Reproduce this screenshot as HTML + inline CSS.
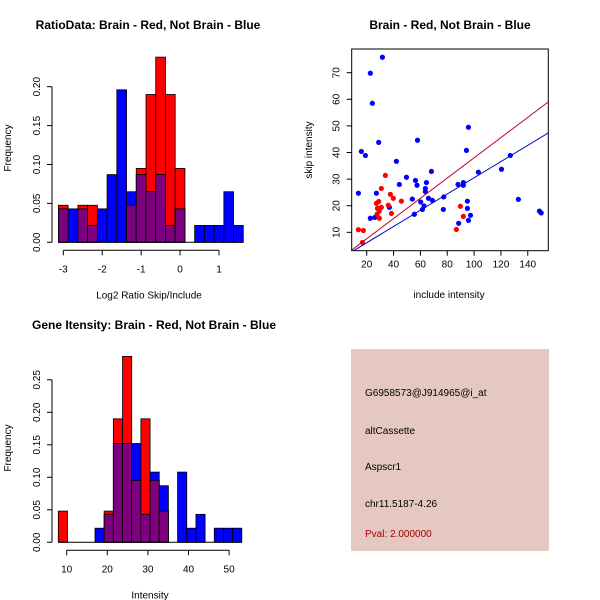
<!DOCTYPE html>
<html><head><meta charset="utf-8">
<style>
html,body{margin:0;padding:0;background:#fff;}
svg{display:block;font-family:"Liberation Sans",sans-serif;}
</style></head>
<body>
<svg id="root" width="600" height="600" viewBox="0 0 600 600">
<rect x="0" y="0" width="600" height="600" fill="#fff"/>
<text x="148" y="29" font-size="12" font-weight="bold" text-anchor="middle">RatioData: Brain - Red, Not Brain - Blue</text>
<text x="450" y="29" font-size="12" font-weight="bold" text-anchor="middle">Brain - Red, Not Brain - Blue</text>
<text x="154" y="329" font-size="12" font-weight="bold" text-anchor="middle">Gene Itensity: Brain - Red, Not Brain - Blue</text>
<g id="g1"></g>
<g id="g2"></g>
<g id="g3"></g>
<g>
<rect x="351" y="349" width="198" height="202" fill="#e6c8c2"/>
<text x="365" y="396" font-size="10">G6958573@J914965@i_at</text>
<text x="365" y="434" font-size="10">altCassette</text>
<text x="365" y="470" font-size="10">Aspscr1</text>
<text x="365" y="507" font-size="10">chr11.5187-4.26</text>
<text x="365" y="537" font-size="10" fill="#a00000">Pval: 2.000000</text>
</g>
</svg>
<script>
// ratio histogram data
const ratioBinStart = -3.125;
const ratioBinWidth = 0.25;
const ratioRed  = [0.0476,0,0.0476,0.0476,0,0,0,0.0476,0.095,0.19,0.238,0.19,0.095,0,0,0,0,0,0];
const ratioBlue = [0.043,0.043,0.043,0.0217,0.043,0.087,0.196,0.065,0.087,0.065,0.087,0.0217,0.043,0,0.0217,0.0217,0.0217,0.065,0.0217];
const ratioXTicks = [-3,-2,-1,0,1];
const ratioYTicks = ["0.00","0.05","0.10","0.15","0.20"];
// intensity histogram data
const intBinStart = 7.93;
const intBinWidth = 2.26;
const intRed  = [0.048,0,0,0,0,0.048,0.19,0.286,0.095,0.19,0.095,0.048,0,0,0,0,0,0,0,0];
const intBlue = [0,0,0,0,0.0217,0.043,0.152,0.152,0.152,0.043,0.108,0.087,0,0.108,0.0217,0.043,0,0.0217,0.0217,0.0217];
const intXTicks = [10,20,30,40,50];
const intYTicks = ["0.00","0.05","0.10","0.15","0.20","0.25"];
// scatter data
const blueX = [31.7,22.7,24.2,28.9,16,19,13.8,27.2,22.7,26,42.1,44.3,49.6,36.9,57.5,56.3,57.8,54,55.5,64.5,63.7,63.7,68.2,66,69,60.2,61.5,62.7,77.4,77.1,88,92,92,88.5,94.3,95.8,95,95,97.3,95.8,103.2,120.4,127,133,148.7,150];
const blueY = [75.8,69.8,58.5,43.8,40.4,38.9,24.7,24.7,15.3,15.6,36.7,28,30.7,19.4,27.7,29.5,44.6,22.5,16.8,28.7,26.5,25.3,32.9,22.8,22,21.4,18.6,19.9,23.3,18.6,28,28.7,27.7,13.4,40.8,49.5,21.7,19,16.4,14.5,32.6,33.7,38.9,22.4,18,17.3];
const redX = [13.8,17.5,16.8,33.9,30.9,27.2,28.9,28,29.4,27.7,29.4,30.9,37.6,39.8,36.1,38.4,45.8,89.8,92,86.8];
const redY = [11,10.7,6.2,31.4,26.5,20.9,21.6,19,18,16.8,15.3,19.4,24.3,22.8,20.2,17.1,21.7,19.8,16,11.1];
const redSlope = 0.38;
const blueSlope = 0.305;
const scXTicks = [20,40,60,80,100,120,140];
const scYTicks = [10,20,30,40,50,60,70];

const NS = "http://www.w3.org/2000/svg";
function mk(parent, tag, attrs){ const e=document.createElementNS(NS,tag); for(const k in attrs) e.setAttribute(k,attrs[k]); parent.appendChild(e); return e; }
function txt(parent, s, attrs){ const e=mk(parent,'text',attrs); e.textContent=s; return e; }

function histogram(g, o){
  const sx = v => o.px0 + (v - o.v0) * o.kx;
  const sy = v => o.py0 - v * o.ky;
  for(let i=0;i<o.red.length;i++){
    const a=o.binStart+i*o.binWidth, b=a+o.binWidth;
    const x=sx(a), w=sx(b)-sx(a);
    const r=o.red[i], bl=o.blue[i];
    if(r>0){ const e=mk(g,'rect',{x:x,y:sy(r),width:w,height:sy(0)-sy(r),fill:'#ff0000',stroke:'#000','stroke-width':0.8});
        }
    if(bl>0){ const e=mk(g,'rect',{x:x,y:sy(bl),width:w,height:sy(0)-sy(bl),fill:'#0000ff',stroke:'#000','stroke-width':0.8});
        }
    const m=Math.min(r,bl);
    if(m>0){ const e=mk(g,'rect',{x:x,y:sy(m),width:w,height:sy(0)-sy(m),fill:'#7f007f',stroke:'#000','stroke-width':0.8});
        }
  }
  const bx0=sx(o.binStart), bx1=sx(o.binStart+o.red.length*o.binWidth);
  mk(g,'line',{x1:bx0,y1:sy(0),x2:bx1,y2:sy(0),stroke:'#000','stroke-width':1});
  // x axis
  const xa=mk(g,'g',{});  
  const ay=o.py0+8;
  mk(xa,'line',{x1:sx(o.xTicks[0]),y1:ay,x2:sx(o.xTicks[o.xTicks.length-1]),y2:ay,stroke:'#000'});
  o.xTicks.forEach(t=>{ mk(xa,'line',{x1:sx(t),y1:ay,x2:sx(t),y2:ay+5,stroke:'#000'});
    const l=txt(xa,String(t),{x:sx(t),y:ay+22,'font-size':10,'text-anchor':'middle'});
      });
  // y axis
  const ya=mk(g,'g',{});  
  const ax=o.axisX;
  mk(ya,'line',{x1:ax,y1:sy(0),x2:ax,y2:sy(parseFloat(o.yTicks[o.yTicks.length-1])),stroke:'#000'});
  o.yTicks.forEach(t=>{ const v=parseFloat(t); mk(ya,'line',{x1:ax-5,y1:sy(v),x2:ax,y2:sy(v),stroke:'#000'});
    const l=txt(ya,t,{x:ax-12,y:sy(v),'font-size':10,'text-anchor':'middle',transform:`rotate(-90 ${ax-12} ${sy(v)})`});
      });
  const xt=txt(g,o.xTitle,{x:(o.titleX),y:o.py0+56,'font-size':10,'text-anchor':'middle'});
   
  const yt=txt(g,'Frequency',{x:11,y:o.yTitleY,'font-size':10,'text-anchor':'middle',transform:`rotate(-90 11 ${o.yTitleY})`});
   
}

histogram(document.getElementById('g1'),{
  red:ratioRed, blue:ratioBlue, binStart:ratioBinStart, binWidth:ratioBinWidth,
  v0:-3, px0:63.3, kx:38.92, py0:242.3, ky:778,
  xTicks:ratioXTicks, yTicks:ratioYTicks, axisX:52, xTitle:'Log2 Ratio Skip/Include', titleX:149, yTitleY:148
});
histogram(document.getElementById('g3'),{
  red:intRed, blue:intBlue, binStart:intBinStart, binWidth:intBinWidth,
  v0:10, px0:66.7, kx:4.06, py0:542.3, ky:650,
  xTicks:intXTicks, yTicks:intYTicks, axisX:52, xTitle:'Intensity', titleX:150, yTitleY:448
});

// scatter
(function(){
  const g=document.getElementById('g2');
  const L=351.7,R=548.3,T=49,B=250.7, x0=8.8,x1=155.3,y0=3.1,y1=78.9;
  const sx=v=>L+(v-x0)/(x1-x0)*(R-L);
  const sy=v=>B-(v-y0)/(y1-y0)*(B-T);
  mk(g,'rect',{x:L,y:T,width:R-L,height:B-T,fill:'none',stroke:'#000'});
  const cp=mk(g,'clipPath',{id:'scClip'}); mk(cp,'rect',{x:L,y:T,width:R-L,height:B-T});
  for(let i=0;i<blueX.length;i++){ const c=mk(g,'circle',{cx:sx(blueX[i]),cy:sy(blueY[i]),r:2.6,fill:'#0000ff'});
      }
  for(let i=0;i<redX.length;i++){ const c=mk(g,'circle',{cx:sx(redX[i]),cy:sy(redY[i]),r:2.6,fill:'#ff0000'});
      }
  const rl=mk(g,'line',{x1:sx(x0),y1:sy(redSlope*x0),x2:sx(x1),y2:sy(redSlope*x1),stroke:'#c00020','stroke-width':1,'clip-path':'url(#scClip)'});
   
  const bl=mk(g,'line',{x1:sx(x0),y1:sy(blueSlope*x0),x2:sx(x1),y2:sy(blueSlope*x1),stroke:'#0000c0','stroke-width':1,'clip-path':'url(#scClip)'});
   
  scXTicks.forEach(t=>{ mk(g,'line',{x1:sx(t),y1:B,x2:sx(t),y2:B+5,stroke:'#000'});
    const l=txt(g,String(t),{x:sx(t),y:B+17,'font-size':10,'text-anchor':'middle'});
      });
  scYTicks.forEach(t=>{ mk(g,'line',{x1:L-5,y1:sy(t),x2:L,y2:sy(t),stroke:'#000'});
    const l=txt(g,String(t),{x:L-12,y:sy(t),'font-size':10,'text-anchor':'middle',transform:`rotate(-90 ${L-12} ${sy(t)})`});
      });
  const xt=txt(g,'include intensity',{x:449,y:298,'font-size':10,'text-anchor':'middle'});
   
  const yt=txt(g,'skip intensity',{x:312,y:150,'font-size':10,'text-anchor':'middle',transform:'rotate(-90 312 150)'});
   
})();
</script>
</body></html>
